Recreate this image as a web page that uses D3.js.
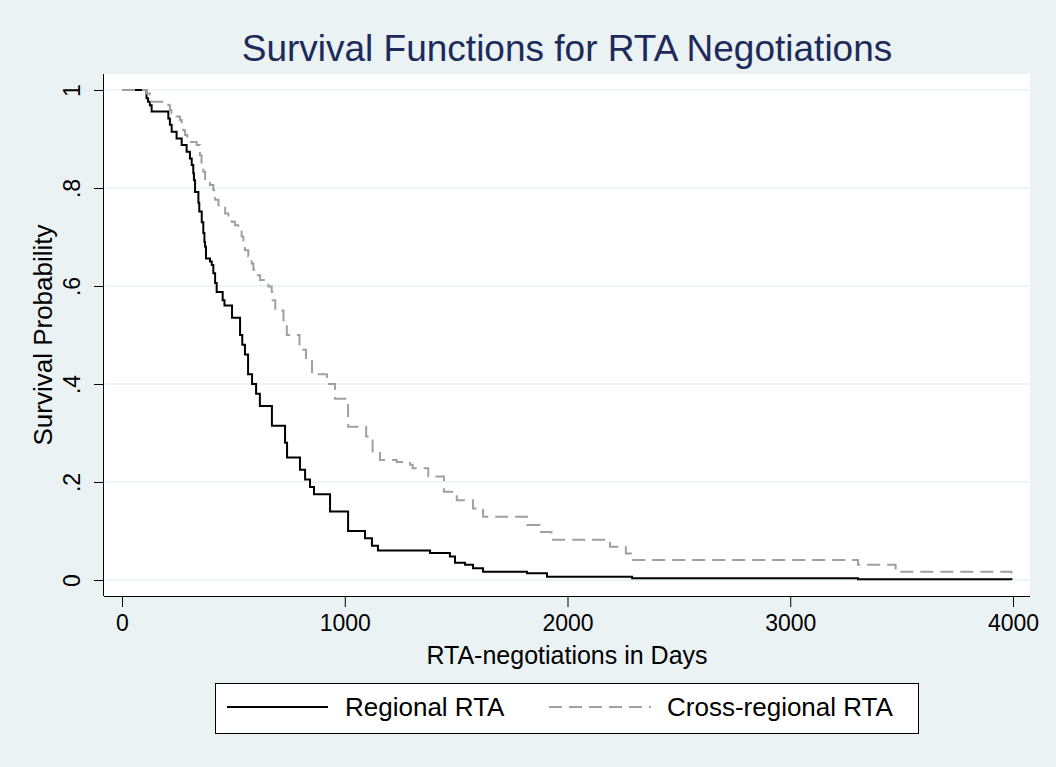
<!DOCTYPE html>
<html>
<head>
<meta charset="utf-8">
<script src="https://cdn.jsdelivr.net/npm/d3@7"></script>
<style>
  body { margin: 0; background: #eaf2f3; }
  text { font-family: "Liberation Sans", Arial, sans-serif; }
</style>
</head>
<body>
<div class="km-chart-div"></div>
<script>
// Kaplan-Meier estimates (days, survival)
const regionalDays = [0, 110, 117, 125, 133, 208, 215, 223, 245, 268, 290, 305, 313, 320, 323, 328, 343, 347, 358, 365, 370, 373, 377, 395, 403, 410, 418, 425, 452, 460, 494, 530, 540, 552, 566, 584, 602, 619, 673, 732, 741, 799, 822, 844, 862, 934, 1015, 1091, 1122, 1149, 1383, 1472, 1495, 1540, 1576, 1621, 1818, 1908, 2290, 3304, 3993];
const regionalSurv = [1, .983, .976, .969, .956, .942, .929, .915, .901, .888, .874, .86, .847, .83, .816, .792, .77, .752, .73, .708, .69, .68, .656, .65, .643, .626, .606, .588, .571, .56, .535, .50, .48, .46, .42, .40, .38, .355, .315, .28, .25, .225, .205, .19, .175, .14, .10, .085, .07, .06, .055, .048, .035, .031, .024, .017, .0136, .0068, .0034, .0014, 0];

const crossDays = [0, 111, 125, 208, 215, 222, 240, 260, 268, 275, 283, 293, 335, 350, 357, 365, 373, 395, 410, 418, 433, 463, 478, 493, 507, 522, 537, 545, 552, 567, 582, 590, 605, 620, 642, 657, 672, 676, 688, 725, 740, 797, 826, 853, 920, 956, 1015, 1096, 1125, 1158, 1233, 1293, 1305, 1375, 1445, 1503, 1576, 1621, 1818, 1876, 1928, 2191, 2262, 2285, 3304, 3473, 3993];
const crossSurv = [1, .993, .976, .969, .959, .952, .946, .939, .929, .918, .908, .894, .888, .867, .85, .833, .816, .806, .796, .776, .765, .748, .741, .731, .724, .714, .701, .687, .673, .66, .646, .633, .622, .612, .605, .599, .588, .571, .55, .53, .50, .47, .45, .42, .40, .37, .313, .293, .259, .245, .241, .235, .228, .211, .18, .163, .146, .129, .112, .098, .082, .068, .054, .041, .031, .017, 0];

const xTicks = [0, 1000, 2000, 3000, 4000];
const yTicks = [0, .2, .4, .6, .8, 1];
const seriesNames = ["Regional RTA", "Cross-regional RTA"];

let width = 1056;
let height = 767;

const plot = { left: 104, right: 1030, top: 74, bottom: 596 };

let svg = d3.select(".km-chart-div").append("svg")
  .attr("width", width)
  .attr("height", height);

svg.append("rect")
  .attr("width", width)
  .attr("height", height)
  .attr("fill", "#eaf2f3");

// white plot region
svg.append("rect")
  .attr("x", plot.left)
  .attr("y", plot.top)
  .attr("width", plot.right - plot.left)
  .attr("height", plot.bottom - plot.top)
  .attr("fill", "#ffffff");

let x = d3.scaleLinear().domain([0, 4000]).range([122, 1013]);
let y = d3.scaleLinear().domain([0, 1]).range([580, 90]);

// gridlines
svg.selectAll("line.grid")
  .data(yTicks)
  .enter()
  .append("line")
  .attr("class", "grid")
  .attr("x1", plot.left + 1)
  .attr("x2", plot.right)
  .attr("y1", d => y(d))
  .attr("y2", d => y(d))
  .attr("stroke", "#eaf2f3")
  .attr("stroke-width", 1.6);

// axes
let xAxis = d3.axisBottom(x)
  .tickValues(xTicks)
  .tickSize(11)
  .tickPadding(8)
  .tickFormat(d3.format("d"));

let gx = svg.append("g")
  .attr("transform", `translate(0, ${plot.bottom})`)
  .call(xAxis);
gx.select(".domain").remove();
gx.append("line")
  .attr("x1", plot.left).attr("x2", plot.right)
  .attr("y1", 0.5).attr("y2", 0.5)
  .attr("stroke", "#000");
gx.selectAll(".tick line").attr("stroke", "#000");
gx.selectAll(".tick text")
  .attr("fill", "#000")
  .style("font-size", "23px");

let yAxis = d3.axisLeft(y)
  .tickValues(yTicks)
  .tickSize(10)
  .tickFormat(d => d == 0 || d == 1 ? d3.format("d")(d) : d3.format(".1f")(d).replace(/^0/, ""));

let gy = svg.append("g")
  .attr("transform", `translate(${plot.left}, 0)`)
  .call(yAxis);
gy.select(".domain").remove();
gy.append("line")
  .attr("x1", -0.5).attr("x2", -0.5)
  .attr("y1", plot.top).attr("y2", plot.bottom)
  .attr("stroke", "#000");
gy.selectAll(".tick line").attr("stroke", "#000");
gy.selectAll(".tick text")
  .attr("fill", "#000")
  .attr("x", null).attr("dy", null)
  .attr("text-anchor", "middle")
  .attr("transform", "translate(-24, 0) rotate(-90)")
  .style("font-size", "23px");

// survival curves
let line = d3.line()
  .x(d => x(d[0]))
  .y(d => y(d[1]))
  .curve(d3.curveStepAfter);

svg.append("path")
  .datum(d3.zip(regionalDays, regionalSurv))
  .attr("fill", "none")
  .attr("stroke", "#000")
  .attr("stroke-width", 2)
  .attr("d", line);

svg.append("path")
  .datum(d3.zip(crossDays, crossSurv))
  .attr("fill", "none")
  .attr("stroke", "#a0a0a0")
  .attr("stroke-width", 2)
  .attr("stroke-dasharray", "13,7")
  .attr("d", line);

// titles
svg.append("text")
  .attr("x", 567)
  .attr("y", 61)
  .attr("text-anchor", "middle")
  .style("font-size", "37px")
  .style("fill", "#1c2b5a")
  .text("Survival Functions for RTA Negotiations");

svg.append("text")
  .attr("x", 567)
  .attr("y", 664)
  .attr("text-anchor", "middle")
  .style("font-size", "25px")
  .text("RTA-negotiations in Days");

svg.append("text")
  .attr("transform", "translate(52, 335) rotate(-90)")
  .attr("text-anchor", "middle")
  .style("font-size", "26px")
  .text("Survival Probability");

// legend
let legend = svg.append("g");
legend.append("rect")
  .attr("x", 215.5).attr("y", 683.5)
  .attr("width", 703).attr("height", 50)
  .attr("fill", "#fff")
  .attr("stroke", "#000");

const legendKeys = [
  { x1: 227, x2: 328, tx: 345, color: "#000", dash: null },
  { x1: 549, x2: 651, tx: 667, color: "#a0a0a0", dash: "13,7" }
];

legend.selectAll("line.key")
  .data(legendKeys)
  .enter()
  .append("line")
  .attr("class", "key")
  .attr("x1", d => d.x1).attr("x2", d => d.x2)
  .attr("y1", 707).attr("y2", 707)
  .attr("stroke", d => d.color)
  .attr("stroke-width", 2)
  .attr("stroke-dasharray", d => d.dash);

legend.selectAll("text.key")
  .data(legendKeys)
  .enter()
  .append("text")
  .attr("class", "key")
  .attr("x", d => d.tx)
  .attr("y", 716)
  .style("font-size", "26px")
  .text((d, i) => seriesNames[i]);
</script>
</body>
</html>
